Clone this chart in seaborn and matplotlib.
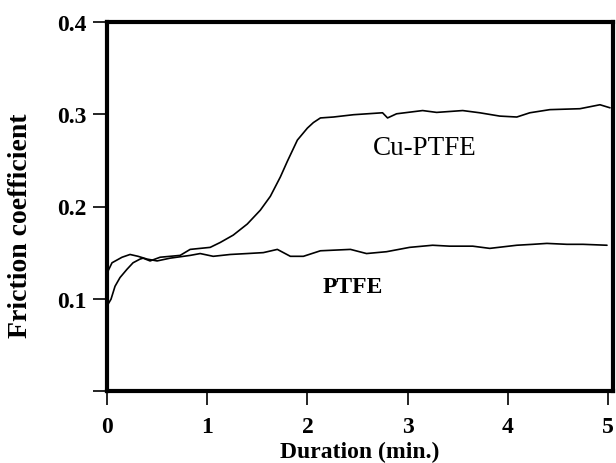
import matplotlib
matplotlib.use("Agg")
import matplotlib.pyplot as plt
import seaborn as sns
import pandas as pd

# Data
cu_x = [0.01, 0.04, 0.08, 0.13, 0.20, 0.26, 0.33, 0.36, 0.43, 0.53, 0.73, 0.83, 0.93,
        1.03, 1.13, 1.26, 1.40, 1.53, 1.63, 1.73, 1.80, 1.90, 2.00, 2.06, 2.13, 2.26,
        2.46, 2.75, 2.80, 2.89, 3.15, 3.29, 3.55, 3.72, 3.92, 4.09, 4.22, 4.42, 4.72,
        4.92, 5.02]
cu_y = [0.094, 0.0995, 0.1135, 0.123, 0.132, 0.139, 0.143, 0.144, 0.141, 0.145, 0.147,
        0.1535, 0.1546, 0.1557, 0.161, 0.169, 0.181, 0.196, 0.211, 0.232, 0.249, 0.272,
        0.285, 0.291, 0.296, 0.297, 0.2995, 0.3016, 0.296, 0.3005, 0.304, 0.302, 0.304,
        0.3016, 0.298, 0.297, 0.3016, 0.305, 0.306, 0.3103, 0.307]

ptfe_x = [0.01, 0.05, 0.15, 0.23, 0.31, 0.40, 0.50, 0.63, 0.83, 0.93, 1.06, 1.23, 1.40,
          1.56, 1.70, 1.83, 1.96, 2.13, 2.43, 2.59, 2.79, 3.02, 3.25, 3.42, 3.65, 3.82,
          4.09, 4.25, 4.39, 4.59, 4.75, 4.99]
ptfe_y = [0.130, 0.139, 0.145, 0.148, 0.146, 0.143, 0.141, 0.144, 0.147, 0.149, 0.146,
          0.148, 0.149, 0.150, 0.1535, 0.146, 0.146, 0.152, 0.1535, 0.149, 0.151, 0.1557,
          0.158, 0.157, 0.157, 0.1546, 0.158, 0.159, 0.160, 0.159, 0.159, 0.158]

x_ticks = [0, 1, 2, 3, 4, 5]
y_ticks = [0.0, 0.1, 0.2, 0.3, 0.4]
y_tick_labels = ["", "0.1", "0.2", "0.3", "0.4"]

df = pd.concat([
    pd.DataFrame({"Duration": cu_x, "Friction": cu_y, "Material": "Cu-PTFE"}),
    pd.DataFrame({"Duration": ptfe_x, "Friction": ptfe_y, "Material": "PTFE"}),
])

sns.set_theme(style="ticks")
plt.rcParams["font.family"] = ["Liberation Serif", "DejaVu Serif"]

fig = plt.figure(figsize=(6.16, 4.64), dpi=100)
ax = fig.add_axes([107 / 616, 1 - 392 / 464, (613 - 107) / 616, (392 - 23) / 464])

sns.lineplot(data=df, x="Duration", y="Friction", units="Material", estimator=None,
             sort=False, color="black", linewidth=1.2, ax=ax, legend=False)

ax.set_xlim(0, 5.05)
ax.set_ylim(0, 0.4)
ax.set_xticks(x_ticks)
ax.set_xticklabels([str(t) for t in x_ticks])
ax.set_yticks(y_ticks)
ax.set_yticklabels(y_tick_labels)

for s in ax.spines.values():
    s.set_linewidth(3.0)
    s.set_color("black")

ax.tick_params(axis="both", direction="out", length=10, width=1.2, color="black",
               labelsize=17, labelcolor="black")
ax.tick_params(axis="x", pad=8)
ax.tick_params(axis="y", pad=5)
for lab in ax.get_xticklabels() + ax.get_yticklabels():
    lab.set_fontweight("bold")

ax.set_xlabel("Duration (min.)", fontsize=17, fontweight="bold", color="black")
ax.set_ylabel("Friction coefficient", fontsize=20, fontweight="bold", color="black")
ax.xaxis.set_label_coords(0.5, -0.135)
ax.yaxis.set_label_coords(-0.146, 0.45)

ax.text(3.17, 0.264, "Cu-PTFE", fontsize=19.5, ha="center", va="center", color="black")
ax.text(2.15, 0.1135, "PTFE", fontsize=17, ha="left", va="center", color="black",
        fontweight="bold")

fig.savefig("out.png", dpi=100)
